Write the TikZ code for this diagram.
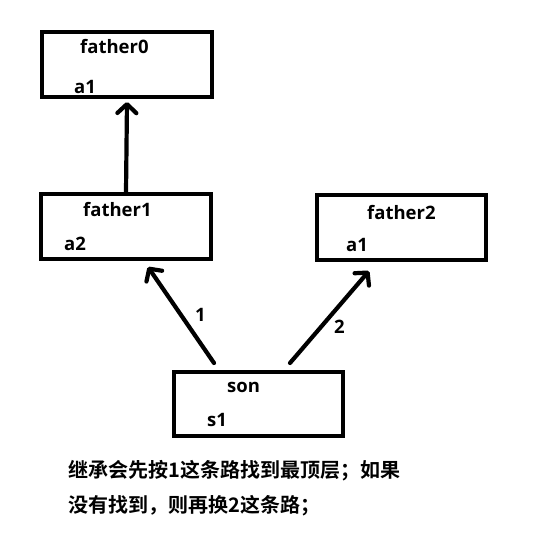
\documentclass[tikz,border=0pt]{standalone}
\usepackage{fontspec}
\setmainfont{Open Sans}[UprightFont=* Bold]
\newfontfamily\cjk{Noto Sans CJK SC}[UprightFont=* Bold]
\usepackage{tikz}
\usetikzlibrary{calc, positioning, arrows.meta}

\begin{document}
\begin{tikzpicture}[x=1pt, y=-1pt,
    box/.style={draw, line width=4pt, minimum width=170pt, minimum height=65pt, inner sep=0pt},
    lbl/.style={anchor=base west, inner sep=0pt, font=\fontsize{18.5}{22}\selectfont},
    arr/.style={line width=4.2pt, line cap=round, -{Straight Barb[length=9pt, width=19pt, round]}}]
  \useasboundingbox (0,0) rectangle (538,533);

  % --- boxes ---
  \node[box] (f0) at (127,64.5) {};
  \node[box] (f1) at (126,226.5) {};
  \node[box, minimum width=169pt] (f2) at (401.5,227.5) {};
  \node[box, minimum width=169pt, minimum height=64pt] (son) at (258.5,404) {};

  % --- texts in boxes ---
  \node[lbl] (f0name) at (80,53) {father0};
  \node[lbl] (f0var) at (74,93) {a1};
  \node[lbl] (f1name) at (83,216) {father1};
  \node[lbl] (f1var) at (64,250) {a2};
  \node[lbl] (f2name) at (367,219) {father2};
  \node[lbl] (f2var) at (346,251) {a1};
  \node[lbl] (sonname) at (227,392) {son};
  \node[lbl] (sonvar) at (207,426) {s1};

  % --- arrows ---
  \draw[arr] (f1.north) -- ([yshift=-3pt]f0.south);
  \draw[arr] ([xshift=42pt,yshift=7pt]son.north west) -- ([xshift=109pt,yshift=-6pt]f1.south west);
  \draw[arr] ([xshift=118pt,yshift=7pt]son.north west) -- ([xshift=54pt,yshift=-9pt]f2.south west);
  \node[lbl] (path1) at (195,321) {1};
  \node[lbl] (path2) at (334,333) {2};

  % --- note ---
  \node[lbl, font=\cjk\fontsize{20}{24}\selectfont] (note1) at (68,477) {继承会先按1这条路找到最顶层；如果};
  \node[lbl, font=\cjk\fontsize{20}{24}\selectfont] (note2) at (68,512) {没有找到，则再换2这条路；};
\end{tikzpicture}
\end{document}
